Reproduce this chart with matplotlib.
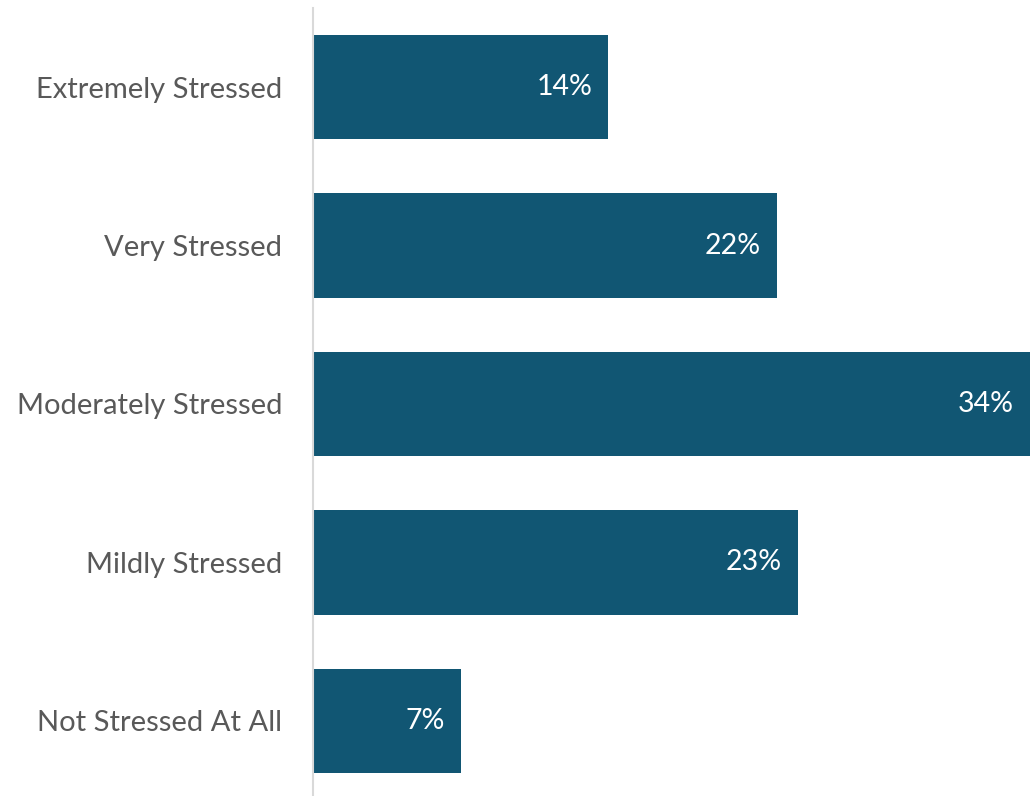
import matplotlib.pyplot as plt

categories = ['Extremely Stressed', 'Very Stressed', 'Moderately Stressed',
              'Mildly Stressed', 'Not Stressed At All']
values = [14, 22, 34, 23, 7]

bar_color = '#115673'
text_gray = '#595959'

plt.rcParams['font.family'] = ['Lato', 'DejaVu Sans']

fig = plt.figure(figsize=(10.3, 7.96), dpi=100)
ax = fig.add_axes([0.3039, -0.005, 0.6961, 0.995])

y = list(range(len(categories)))[::-1]
bars = ax.barh(y, values, height=0.66, color=bar_color)

for rect, v in zip(bars, values):
    ax.text(rect.get_width() - 0.75, rect.get_y() + rect.get_height() / 2,
            f'{v}%', ha='right', va='center', color='white', fontsize=20.5)

ax.set_xlim(0, 34)
ax.set_ylim(-0.5, len(categories) - 0.5)
ax.set_yticks(y)
ax.set_yticklabels(categories, fontsize=21, color=text_gray)
ax.tick_params(axis='y', length=0, pad=22)
ax.set_xticks([])

for side in ['top', 'right', 'bottom']:
    ax.spines[side].set_visible(False)
ax.spines['left'].set_color('#d9d9d9')
ax.spines['left'].set_linewidth(1.5)

fig.savefig('out.png', dpi=100)
